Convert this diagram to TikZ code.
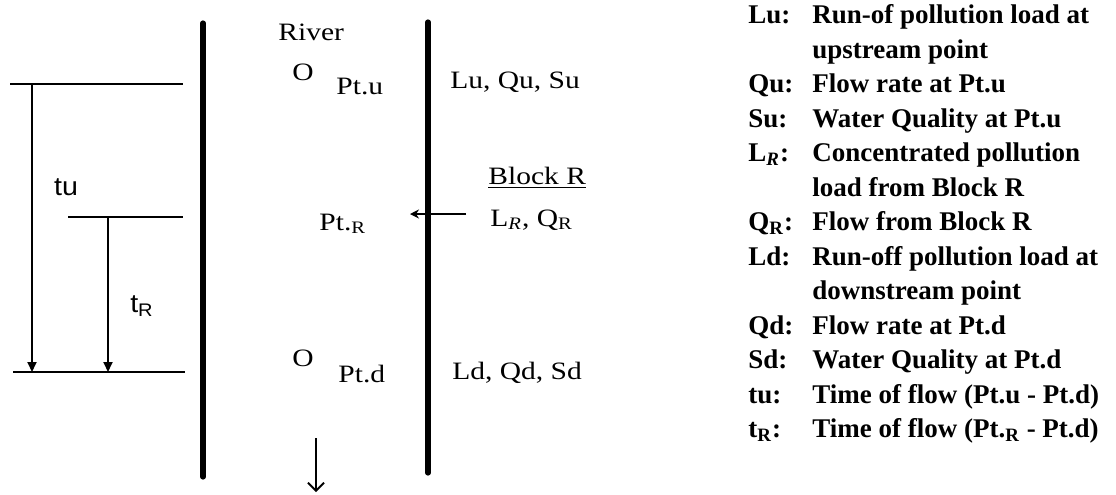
\documentclass[tikz,border=0pt]{standalone}
\usepackage{fontspec}
\setmainfont{Liberation Serif}
\newfontfamily\widefont{Liberation Serif}[FakeStretch=1.18]
\newfontfamily\labfont{Liberation Sans}[FakeStretch=1.1]
\usetikzlibrary{arrows.meta, positioning}

\begin{document}
\begin{tikzpicture}[x=0.5pt, y=-0.5pt,
bank/.style={line width=2.6pt, line cap=round},
level/.style={line width=0.8pt},
time/.style={line width=0.9pt, -{Triangle[width=4.5pt,length=5pt]}},
txt/.style={anchor=west, inner sep=0pt, font=\widefont\fontsize{12.5}{14}\selectfont},
lab/.style={inner sep=0pt, font=\labfont\fontsize{13}{15}\selectfont},
key/.style={anchor=north west, inner sep=0pt, font=\fontsize{13.5}{17.25}\selectfont\bfseries}
]
\useasboundingbox (0,0) rectangle (1116,494);

% river banks
\coordinate (lbtop) at (203,23);
\coordinate (lbbot) at (203,477);
\coordinate (rbtop) at (428,22);
\coordinate (rbbot) at (428,473);
\draw[bank] (lbtop) -- (lbbot);
\draw[bank] (rbtop) -- (rbbot);

\node[txt] (river) at (278,32) {River};

% points on the river
\node[txt] (ou) at (292,72) {O};
\node[txt] (ptu) at (336,86) {Pt.u};
\node[txt] (upin) at (450,82) {Lu, Qu, Su};

\node[txt] (blockr) at (488,178) {\underline{Block R}};
\node[txt] (rin) at (490,220) {L\textsubscript{\textit{R}}, Q\textsubscript{R}};
\node[txt] (ptr) at (319,224) {Pt.\textsubscript{R}};
\coordinate (infrom) at (466,214);
\coordinate (into) at (410,214);
\draw[line width=0.8pt, -{Stealth[width=4.5pt,length=4.5pt]}] (infrom) -- (into);

\node[txt] (od) at (292,358) {O};
\node[txt] (ptd) at (338,374) {Pt.d};
\node[txt] (dnin) at (452,373) {Ld, Qd, Sd};

% flow direction
\coordinate (flowa) at (316,438);
\coordinate (flowb) at (316,492);
\draw[line width=0.9pt, -{Straight Barb[width=8pt,length=4pt]}] (flowa) -- (flowb);

% time of flow
\coordinate (ua) at (10,84);   \coordinate (ub) at (183,84);
\coordinate (ra) at (68,217);  \coordinate (rb) at (183,217);
\coordinate (da) at (13,372);  \coordinate (db) at (185,372);
\draw[level] (ua) -- (ub);
\draw[level] (ra) -- (rb);
\draw[level] (da) -- (db);
\draw[time] (ua -| 32,0) -- (da -| 32,0);
\draw[time] (ra -| 108,0) -- (da -| 108,0);
\node[lab] (tu) at (66,187) {tu};
\node[lab] (tr) at (142,306) {t\textsubscript{R}};

% legend
\node[key] (legend) at (748,-1) {%
\begin{tabular}{@{}p{32pt}@{}l@{}}
Lu: & Run-of pollution load at\\
    & upstream point\\
Qu: & Flow rate at Pt.u\\
Su: & Water Quality at Pt.u\\
L\textsubscript{\textit{R}}: & Concentrated pollution\\
    & load from Block R\\
Q\textsubscript{R}: & Flow from Block R\\
Ld: & Run-off pollution load at\\
    & downstream point\\
Qd: & Flow rate at Pt.d\\
Sd: & Water Quality at Pt.d\\
tu: & Time of flow (Pt.u - Pt.d)\\
t\textsubscript{R}: & Time of flow (Pt.\textsubscript{R} - Pt.d)
\end{tabular}};
\end{tikzpicture}
\end{document}
